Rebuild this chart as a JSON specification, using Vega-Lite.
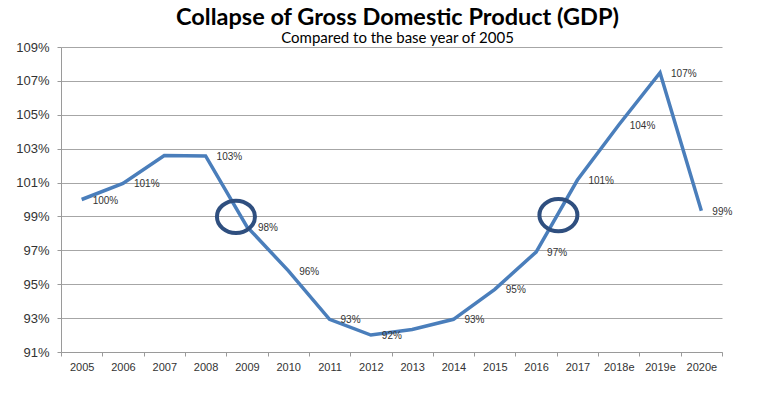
{
  "$schema": "https://vega.github.io/schema/vega-lite/v6.json",
  "width": 661,
  "height": 305,
  "autosize": {"type": "none"},
  "padding": {"left": 61, "top": 47, "right": 41, "bottom": 54},
  "background": "white",
  "title": {
    "text": "Collapse of Gross Domestic Product (GDP)",
    "subtitle": "Compared to the base year of 2005",
    "anchor": "middle",
    "frame": "group",
    "dx": 6,
    "offset": -5,
    "font": "Lato",
    "fontSize": 23.5,
    "fontWeight": "bold",
    "color": "#000000",
    "subtitleFont": "Lato",
    "subtitleFontSize": 15,
    "subtitleColor": "#000000",
    "subtitlePadding": 2
  },
  "config": {
    "view": {"stroke": null},
    "axis": {
      "labelFont": "Liberation Sans",
      "labelColor": "#333333",
      "domainColor": "#9a9a9a",
      "tickColor": "#9a9a9a",
      "gridColor": "#a6a6a6",
      "tickSize": 4,
      "title": null
    },
    "axisY": {
      "values": [91, 93, 95, 97, 99, 101, 103, 105, 107, 109],
      "labelExpr": "datum.value + '%'",
      "labelFontSize": 13,
      "labelPadding": 8,
      "labelOverlap": false,
      "labelBound": false,
      "grid": true
    }
  },
  "datasets": {
    "gdp": [
      {"year": "2005", "value": 100.0, "label": "100%"},
      {"year": "2006", "value": 100.95, "label": "101%"},
      {"year": "2007", "value": 102.6, "label": ""},
      {"year": "2008", "value": 102.57, "label": "103%"},
      {"year": "2009", "value": 98.4, "label": "98%"},
      {"year": "2010", "value": 95.8, "label": "96%"},
      {"year": "2011", "value": 92.93, "label": "93%"},
      {"year": "2012", "value": 92.0, "label": "92%"},
      {"year": "2013", "value": 92.33, "label": ""},
      {"year": "2014", "value": 92.93, "label": "93%"},
      {"year": "2015", "value": 94.7, "label": "95%"},
      {"year": "2016", "value": 96.9, "label": "97%"},
      {"year": "2017", "value": 101.15, "label": "101%"},
      {"year": "2018e", "value": 104.4, "label": "104%"},
      {"year": "2019e", "value": 107.48, "label": "107%"},
      {"year": "2020e", "value": 99.33, "label": "99%"}
    ],
    "marks": [
      {"pos": 3.735, "value": 98.98},
      {"pos": 11.54, "value": 99.08}
    ]
  },
  "layer": [
    {
      "layer": [
        {
          "data": {"name": "gdp"},
          "mark": {"type": "line", "color": "#4a7ebb", "strokeWidth": 3.5, "strokeJoin": "miter"},
          "encoding": {
            "x": {
              "field": "year", "type": "ordinal", "sort": null,
              "scale": {"type": "band", "paddingInner": 0, "paddingOuter": 0},
              "axis": {"labelAngle": 0, "tickBand": "extent", "labelFontSize": 11, "labelPadding": 5, "domainColor": "#9a9a9a"}
            },
            "y": {
              "field": "value", "type": "quantitative",
              "scale": {"domain": [91, 109], "nice": false, "zero": false},
              "axis": {"values": [91, 93, 95, 97, 99, 101, 103, 105, 107, 109], "labelOverlap": false}
            }
          }
        },
        {
          "data": {"name": "gdp"},
          "mark": {"type": "text", "align": "left", "baseline": "middle", "dx": 11, "dy": 1, "font": "Liberation Sans", "fontSize": 10, "color": "#333333"},
          "encoding": {
            "x": {"field": "year", "type": "ordinal", "sort": null},
            "y": {"field": "value", "type": "quantitative", "axis": {"values": [91, 93, 95, 97, 99, 101, 103, 105, 107, 109], "labelOverlap": false}},
            "yOffset": {"condition": {"test": "datum.year === '2012'", "value": 14}, "value": 0},
            "text": {"field": "label"}
          }
        }
      ]
    },
    {
      "data": {"name": "marks"},
      "mark": {
        "type": "point",
        "shape": "M-1,0A1,0.85 0 1,1 1,0A1,0.85 0 1,1 -1,0Z",
        "filled": false,
        "stroke": "#2f4f7f",
        "strokeWidth": 4,
        "size": 1444,
        "opacity": 1
      },
      "encoding": {
        "x": {"field": "pos", "type": "quantitative", "scale": {"domain": [-0.5, 15.5], "nice": false, "zero": false}, "axis": null},
        "y": {"field": "value", "type": "quantitative", "axis": {"values": [91, 93, 95, 97, 99, 101, 103, 105, 107, 109], "labelOverlap": false}}
      }
    }
  ],
  "resolve": {"scale": {"x": "independent"}, "axis": {"x": "independent"}}
}
